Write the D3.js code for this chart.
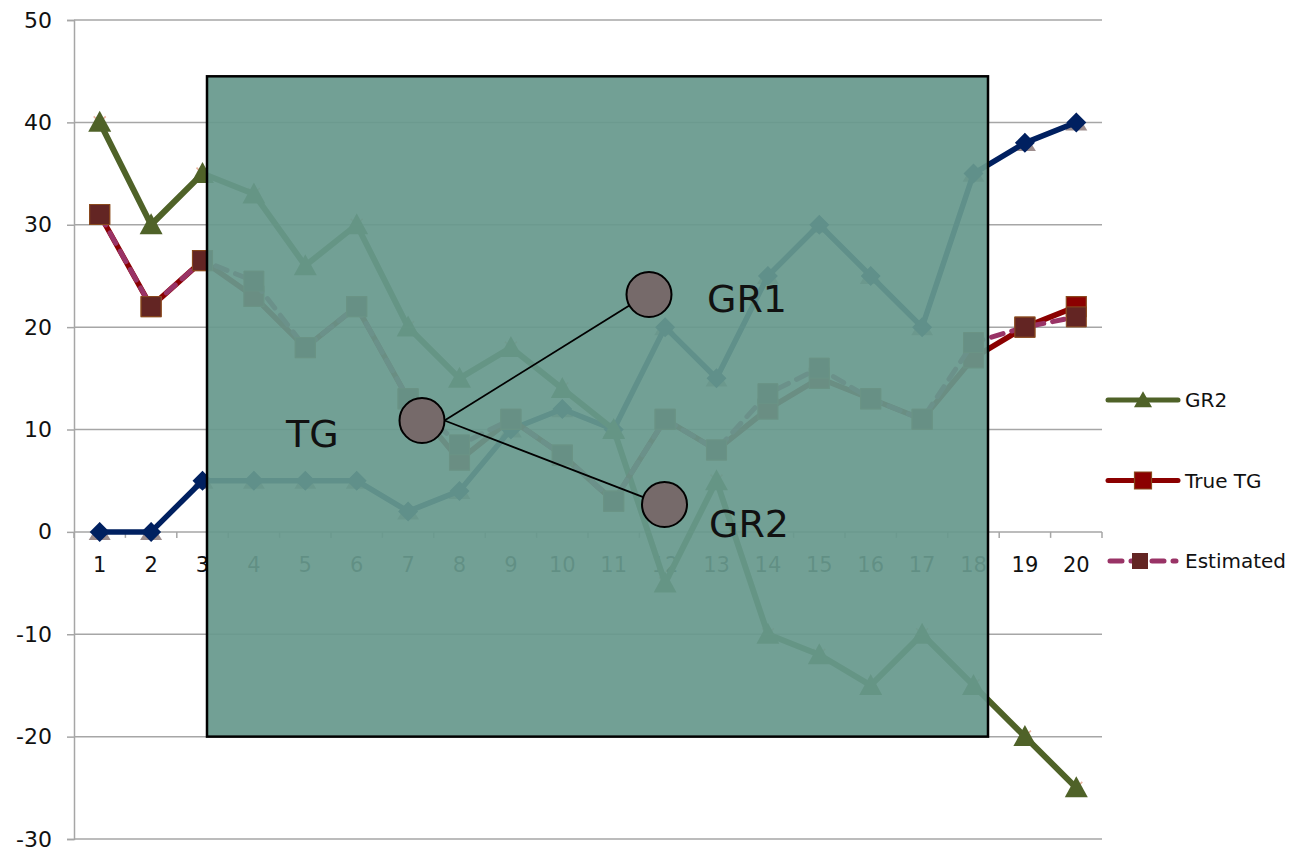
<!DOCTYPE html>
<html>
<head>
<meta charset="utf-8">
<script src="https://cdn.jsdelivr.net/npm/d3@7"></script>
<style>
  body { margin: 0; background: #ffffff; }
  svg text { font-family: "DejaVu Sans", "Noto Sans", sans-serif; fill: #111; }
</style>
</head>
<body>
<svg id="chart" width="1303" height="851"></svg>
<script>
// Categories along the x axis
const categories = ["1","2","3","4","5","6","7","8","9","10","11","12","13","14","15","16","17","18","19","20"];
// Y axis tick values
const yTicks = [-30, -20, -10, 0, 10, 20, 30, 40, 50];

// Series values
const gr1       = [0, 0, 5, 5, 5, 5, 2, 4, 10, 12, 10, 20, 15, 25, 30, 25, 20, 35, 38, 40];
const gr2       = [40, 30, 35, 33, 26, 30, 20, 15, 18, 14, 10, -5, 5, -10, -12, -15, -10, -15, -20, -25];
const trueTG    = [31, 22, 26.5, 23, 18, 22, 13, 7, 11, 7.5, 3, 11, 8, 12, 15, 13, 11, 17, 20, 22];
const estimated = [31, 22, 26.5, 24.5, 18, 22, 13, 8.5, 11, 7.5, 3, 11, 8, 13.5, 16, 13, 11, 18.5, 20, 21];

// Legend entries
const legendNames = ["GR2", "True TG", "Estimated"];

const svg = d3.select("#chart");

const x = d3.scaleBand().domain(categories).range([74, 1102]).padding(0);
const y = d3.scaleLinear().domain([-30, 50]).range([839, 20]);
const cx = (i) => x(categories[i]) + x.bandwidth() / 2;

const GRID = "#a6a6a6";

// Horizontal gridlines
svg.append("g").selectAll("line").data(yTicks).join("line")
  .attr("x1", 74).attr("x2", 1102)
  .attr("y1", d => y(d)).attr("y2", d => y(d))
  .attr("stroke", GRID).attr("stroke-width", 1.5);

// Y axis with labels (plain hyphen for negatives)
const yAxis = svg.append("g").attr("transform", "translate(74,0)")
  .call(d3.axisLeft(y).tickValues(yTicks).tickSize(7).tickPadding(15).tickFormat(d => String(d)));
yAxis.select(".domain").attr("stroke", GRID).attr("stroke-width", 1.5);
yAxis.selectAll(".tick line").attr("stroke", GRID).attr("stroke-width", 1.5);
yAxis.selectAll("text").attr("font-size", 22).attr("fill", "#111")
  .attr("font-family", "DejaVu Sans, sans-serif");

// X axis along zero with category labels
const xAxis = svg.append("g").attr("transform", `translate(0,${y(0)})`)
  .call(d3.axisBottom(x).tickSize(0).tickPadding(25));
xAxis.select(".domain").remove();
xAxis.selectAll("text").attr("font-size", 21).attr("fill", "#111")
  .attr("font-family", "DejaVu Sans, sans-serif");

// Tick marks at category boundaries
const edges = d3.range(categories.length + 1).map(k => x.range()[0] + k * x.step());
svg.append("g").selectAll("line").data(edges).join("line")
  .attr("x1", d => d).attr("x2", d => d)
  .attr("y1", y(0)).attr("y2", y(0) + 6)
  .attr("stroke", GRID).attr("stroke-width", 1.5);

// Marker shapes
const diamond = (r) => `M0,${-r}L${r},0L0,${r}L${-r},0Z`;
const triangle = (w, h) => `M0,${-h * 0.55}L${w / 2},${h * 0.45}L${-w / 2},${h * 0.45}Z`;
const square = (s) => `M${-s / 2},${-s / 2}h${s}v${s}h${-s}Z`;
const cross = (r) => `M${-r},${-r}L${r},${r}M${-r},${r}L${r},${-r}`;

const line = d3.line().x((d, i) => cx(i)).y(d => y(d));

function markers(values, path, attrs) {
  const g = svg.append("g");
  const sel = g.selectAll("path").data(values).join("path")
    .attr("transform", (d, i) => `translate(${cx(i)},${y(d)})`)
    .attr("d", path);
  Object.entries(attrs).forEach(([k, v]) => sel.attr(k, v));
  return g;
}

// Marker-only companion series (no connecting line)
markers(gr2, cross(6), { fill: "none", stroke: "#eab3a0", "stroke-width": 1.6 });
markers(gr1, triangle(22, 18), { fill: "#9e8e8e" });

// GR1
svg.append("path").datum(gr1).attr("d", line)
  .attr("fill", "none").attr("stroke", "#002060").attr("stroke-width", 5.5).attr("stroke-linejoin", "round");
markers(gr1, diamond(10), { fill: "#002060" });

// GR2
svg.append("path").datum(gr2).attr("d", line)
  .attr("fill", "none").attr("stroke", "#4f6228").attr("stroke-width", 6).attr("stroke-linejoin", "round");
markers(gr2, triangle(23, 21), { fill: "#4f6228" });

// True TG
svg.append("path").datum(trueTG).attr("d", line)
  .attr("fill", "none").attr("stroke", "#8b0000").attr("stroke-width", 5.5).attr("stroke-linejoin", "round");
markers(trueTG, square(20), { fill: "#8b0000", stroke: "#8a4a1e", "stroke-width": 1.2 });

// Estimated
svg.append("path").datum(estimated).attr("d", line)
  .attr("fill", "none").attr("stroke", "#993366").attr("stroke-width", 5)
  .attr("stroke-dasharray", "12,9").attr("stroke-linecap", "round");
markers(estimated, square(20), { fill: "#632523", stroke: "#8a4a1e", "stroke-width": 1 });

// Legend
const legend = svg.append("g");
const legendY = [400, 480.5, 561];
const lx1 = 1108, lx2 = 1178, lm = 1143;
// GR2
legend.append("line").attr("x1", lx1).attr("x2", lx2).attr("y1", legendY[0]).attr("y2", legendY[0])
  .attr("stroke", "#4f6228").attr("stroke-width", 5).attr("stroke-linecap", "round");
legend.append("path").attr("transform", `translate(${lm},${legendY[0]})`).attr("d", triangle(18, 16)).attr("fill", "#4f6228");
// True TG
legend.append("line").attr("x1", lx1).attr("x2", lx2).attr("y1", legendY[1]).attr("y2", legendY[1])
  .attr("stroke", "#8b0000").attr("stroke-width", 5).attr("stroke-linecap", "round");
legend.append("path").attr("transform", `translate(${lm},${legendY[1]})`).attr("d", square(17))
  .attr("fill", "#8b0000").attr("stroke", "#8a4a1e").attr("stroke-width", 1.2);
// Estimated
legend.append("line").attr("x1", lx1 + 2).attr("x2", lx2 - 2).attr("y1", legendY[2]).attr("y2", legendY[2])
  .attr("stroke", "#993366").attr("stroke-width", 5).attr("stroke-linecap", "round")
  .attr("stroke-dasharray", "12,9");
legend.append("path").attr("transform", `translate(${lm - 3},${legendY[2]})`).attr("d", square(16))
  .attr("fill", "#632523");
legend.selectAll("text").data(legendNames).join("text")
  .attr("x", 1185).attr("y", (d, i) => legendY[i]).attr("dy", "0.36em")
  .attr("font-size", 20).text(d => d);

// Diagram panel laid over the middle of the plot
const box = { left: 207, top: y(44.5), right: 988, bottom: y(-20) };
const diagram = svg.append("g");
diagram.append("rect")
  .attr("x", box.left).attr("y", box.top)
  .attr("width", box.right - box.left).attr("height", box.bottom - box.top)
  .attr("fill", "rgb(103,153,141)").attr("fill-opacity", 0.93)
  .attr("stroke", "#000").attr("stroke-width", 2.5);

const nodes = [
  { id: "TG",  cx: 422, cy: 420.5, lx: 286, ly: 447 },
  { id: "GR1", cx: 649, cy: 294.5, lx: 707, ly: 312 },
  { id: "GR2", cx: 664.5, cy: 504.5, lx: 709, ly: 537 }
];
const R = 22.5;
const tg = nodes[0];
nodes.slice(1).forEach(n => {
  const a = Math.atan2(n.cy - tg.cy, n.cx - tg.cx);
  diagram.append("line")
    .attr("x1", tg.cx + R).attr("y1", tg.cy)
    .attr("x2", n.cx - R * Math.cos(a)).attr("y2", n.cy - R * Math.sin(a))
    .attr("stroke", "#000").attr("stroke-width", 1.8);
});
diagram.selectAll("circle").data(nodes).join("circle")
  .attr("cx", d => d.cx).attr("cy", d => d.cy).attr("r", R)
  .attr("fill", "#766a6a").attr("stroke", "#000").attr("stroke-width", 2);
diagram.selectAll("text").data(nodes).join("text")
  .attr("x", d => d.lx).attr("y", d => d.ly)
  .attr("font-size", 38).attr("fill", "#000").text(d => d.id);
</script>
</body>
</html>
